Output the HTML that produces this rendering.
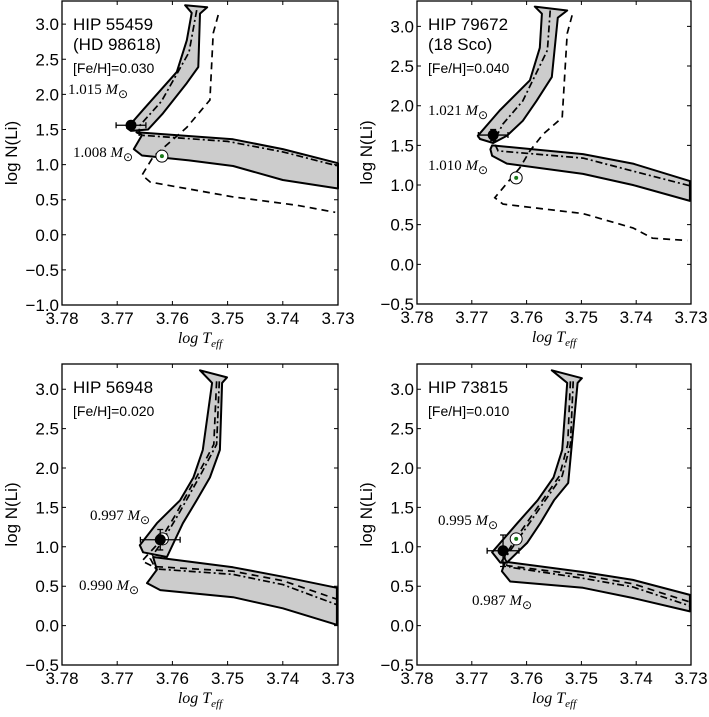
<!DOCTYPE html>
<html><head><meta charset="utf-8"><style>
html,body{margin:0;padding:0;background:#fff;}
svg text{font-family:"Liberation Sans",sans-serif;}
.serif{font-family:"Liberation Serif",serif;}
</style></head><body>
<svg id="fig" width="709" height="712" viewBox="0 0 709 712" xmlns="http://www.w3.org/2000/svg"></svg>
<script>
// ---- Data (log Teff, log N(Li)) ----
const xTicks = [3.78, 3.77, 3.76, 3.75, 3.74, 3.73];
const yTicksA = [-1.0, -0.5, 0.0, 0.5, 1.0, 1.5, 2.0, 2.5, 3.0];
const yTicksB = [-0.5, 0.0, 0.5, 1.0, 1.5, 2.0, 2.5, 3.0];

const p1Upper = [[3.7682,1.52],[3.7653,1.78],[3.7592,2.32],[3.7574,2.77],[3.7565,3.16],[3.7577,3.27],[3.7537,3.24],[3.755,3.15],[3.7553,2.39],[3.7574,2.16],[3.7617,1.73],[3.7644,1.50],[3.7675,1.48]];
const p1Lower = [[3.7665,1.46],[3.749,1.36],[3.740,1.22],[3.730,1.02],[3.730,0.66],[3.740,0.78],[3.749,0.98],[3.757,1.06],[3.7655,1.13],[3.767,1.22],[3.7655,1.42]];
const p1DashDot = [[3.7556,3.2],[3.757,2.6],[3.762,1.9],[3.766,1.55],[3.766,1.42],[3.75,1.33],[3.74,1.18],[3.73,0.98]];
const p1Dashed = [[3.7517,3.13],[3.7526,2.87],[3.7532,1.92],[3.7574,1.53],[3.760,1.35],[3.7635,1.11],[3.7655,0.85],[3.764,0.75],[3.749,0.54],[3.7374,0.42],[3.7305,0.32]];
const p1Star = [3.7675, 1.56, 0.0027, 0.03];
const p1Sun = [3.7619, 1.12];

const p2Upper = [[3.7689,1.62],[3.7649,1.94],[3.7594,2.32],[3.7576,2.73],[3.7572,3.16],[3.7585,3.25],[3.7526,3.20],[3.7543,3.11],[3.7554,2.36],[3.7582,2.06],[3.7607,1.81],[3.7636,1.62],[3.7661,1.53],[3.7685,1.58]];
const p2Lower = [[3.7663,1.50],[3.7497,1.39],[3.7406,1.27],[3.7302,1.05],[3.7302,0.80],[3.7406,1.0],[3.7497,1.14],[3.7636,1.27],[3.7663,1.37],[3.7666,1.45]];
const p2DashDot = [[3.7557,3.2],[3.7562,2.7],[3.7607,2.06],[3.7643,1.77],[3.766,1.55],[3.7652,1.43],[3.7497,1.34],[3.7302,0.99]];
const p2Dashed = [[3.7517,3.14],[3.7526,2.91],[3.7535,1.85],[3.757,1.64],[3.7594,1.43],[3.7612,1.22],[3.7658,0.84],[3.7643,0.76],[3.7497,0.64],[3.7406,0.46],[3.737,0.33],[3.7307,0.30]];
const p2Star = [3.7661, 1.63, 0.0027, 0.07];
const p2Sun = [3.7619, 1.09];

const p3Upper = [[3.7659,1.02],[3.7628,1.30],[3.7586,1.59],[3.7562,1.88],[3.7545,2.23],[3.7528,3.08],[3.755,3.24],[3.7501,3.15],[3.751,3.08],[3.7514,2.23],[3.7532,1.88],[3.7556,1.59],[3.7581,1.30],[3.761,0.87],[3.7653,0.93]];
const p3Lower = [[3.7635,0.87],[3.749,0.74],[3.740,0.62],[3.7302,0.48],[3.7302,0.01],[3.740,0.22],[3.749,0.36],[3.7622,0.45],[3.7646,0.54],[3.7628,0.71]];
const p3DashDot = [[3.7515,3.1],[3.752,2.3],[3.755,1.9],[3.759,1.4],[3.762,1.05],[3.764,0.85],[3.763,0.72],[3.749,0.65],[3.740,0.52],[3.730,0.26]];
const p3Dashed = [[3.752,3.1],[3.7525,2.3],[3.7555,1.9],[3.7595,1.4],[3.7625,1.05],[3.7655,0.82],[3.7635,0.75],[3.749,0.69],[3.740,0.57],[3.730,0.33]];
const p3Star = [3.7622, 1.09, 0.0036, 0.13];
const p3Sun = [3.7618, 1.10];

const p4Upper = [[3.7663,0.93],[3.7617,1.30],[3.7580,1.59],[3.7551,1.88],[3.7535,2.23],[3.7526,3.08],[3.7554,3.24],[3.7499,3.14],[3.7507,3.08],[3.7524,1.81],[3.755,1.59],[3.7575,1.30],[3.7599,1.05],[3.7636,0.80],[3.7648,0.80]];
const p4Lower = [[3.7639,0.81],[3.7497,0.68],[3.7406,0.58],[3.7302,0.39],[3.7302,0.18],[3.7406,0.35],[3.7497,0.48],[3.7630,0.56],[3.7645,0.69]];
const p4DashDot = [[3.7515,3.1],[3.752,2.3],[3.7535,1.9],[3.7575,1.5],[3.7615,1.1],[3.764,0.85],[3.763,0.74],[3.7497,0.60],[3.7406,0.49],[3.7302,0.25]];
const p4Dashed = [[3.752,3.1],[3.7525,2.3],[3.754,1.9],[3.758,1.5],[3.762,1.1],[3.7645,0.82],[3.7635,0.76],[3.7497,0.64],[3.7406,0.53],[3.7302,0.30]];
const p4Star = [3.7643, 0.95, 0.0029, 0.2];
const p4Sun = [3.7619, 1.10];

const NS = "http://www.w3.org/2000/svg";
const fig = document.getElementById('fig');
function mk(tag, attrs, parent){const e=document.createElementNS(NS,tag);for(const k in attrs)e.setAttribute(k,attrs[k]);(parent||fig).appendChild(e);return e;}

function panel(o){
  const g = mk('g',{});
  
  
  const X = t => o.x0 + (3.78 - t) / 0.05 * (o.x1 - o.x0);
  const Y = v => o.y1 - (v - o.ymin) / (o.ymax - o.ymin) * (o.y1 - o.y0);
  const pts = arr => arr.map(p => X(p[0]).toFixed(1)+','+Y(p[1]).toFixed(1)).join(' ');
  let e;
  e = mk('polygon',{points:pts(o.lower),fill:'#cccccc',stroke:'#000','stroke-width':2,'stroke-linejoin':'round'},g);
  
  
  e = mk('polygon',{points:pts(o.upper),fill:'#cccccc',stroke:'#000','stroke-width':2,'stroke-linejoin':'round'},g);
  
  
  e = mk('polyline',{points:pts(o.dashdot),fill:'none',stroke:'#000','stroke-width':1.7,'stroke-dasharray':'7 3 2 3'},g);
  
  
  e = mk('polyline',{points:pts(o.dashed),fill:'none',stroke:'#000','stroke-width':1.7,'stroke-dasharray':'7 5'},g);
  
  
  const sx=X(o.sun[0]), sy=Y(o.sun[1]);
  e = mk('circle',{cx:sx,cy:sy,r:6,fill:'#fff',stroke:'#000','stroke-width':1},g);
  
  
  e = mk('circle',{cx:sx,cy:sy,r:2,fill:'#1a7a1a'},g);
  
  
  const px=X(o.star[0]), py=Y(o.star[1]);
  const ex1=X(o.star[0]+o.star[2]), ex2=X(o.star[0]-o.star[2]);
  const ey1=Y(o.star[1]+o.star[3]), ey2=Y(o.star[1]-o.star[3]);
  e = mk('path',{d:`M${ex1},${py}H${ex2}M${ex1},${py-3}V${py+3}M${ex2},${py-3}V${py+3}M${px},${ey1}V${ey2}M${px-3},${ey1}H${px+3}M${px-3},${ey2}H${px+3}`,stroke:'#000','stroke-width':1.3,fill:'none'},g);
  
  
  e = mk('circle',{cx:px,cy:py,r:5.5,fill:'#000'},g);
  
  
  e = mk('rect',{x:o.x0,y:o.y0,width:o.x1-o.x0,height:o.y1-o.y0,fill:'none',stroke:'#000','stroke-width':1.3},g);
  
  
  xTicks.forEach(t=>{
    const x=X(t);
    e = mk('path',{d:`M${x},${o.y1}v-4M${x},${o.y0}v4`,stroke:'#000','stroke-width':1},g);
    
    
    e = mk('text',{x:x,y:o.y1+19,'font-size':17,'text-anchor':'middle'},g);
    e.textContent=t.toFixed(2);
    
    
  });
  o.yticks.forEach(v=>{
    const y=Y(v);
    e = mk('path',{d:`M${o.x0},${y}h4M${o.x1},${y}h-4`,stroke:'#000','stroke-width':1},g);
    
    
    e = mk('text',{x:o.x0-3,y:y+6,'font-size':17,'text-anchor':'end'},g);
    e.textContent=(v<0?'\u2212':'')+Math.abs(v).toFixed(1);
    
    
  });
  e = mk('text',{x:(o.x0+o.x1)/2,y:o.y1+38,'font-size':16,'text-anchor':'middle','class':'serif','font-style':'italic'},g);
  e.innerHTML='log T<tspan font-size="11" dy="4">eff</tspan>';
  
  
  const cy=(o.y0+o.y1)/2, tx=o.x0-45;
  e = mk('text',{x:tx,y:cy,'font-size':17,'text-anchor':'middle',transform:`rotate(-90 ${tx} ${cy})`},g);
  e.textContent='log N(Li)';
  
  
  o.titles.forEach((t,i)=>{
    e = mk('text',{x:o.x0+11,y:o.y0+29+i*20,'font-size':17},g);
    e.textContent=t;
    
    
  });
  e = mk('text',{x:o.x0+11,y:o.y0+29+o.titles.length*20+3,'font-size':14},g);
  e.textContent=o.feh;
  
  
  o.masses.forEach(m=>{
    e = mk('text',{x:m[0],y:m[1],'font-size':15,'class':'serif'},g);
    e.innerHTML=m[2]+' <tspan font-style="italic">M</tspan><tspan font-size="12" dy="4">\u2299</tspan>';
    
    
  });
}

panel({name:'panel-hip-55459',x0:62,x1:338,y0:1,y1:305,ymin:-1.0,ymax:3.33,yticks:yTicksA,
  upper:p1Upper,lower:p1Lower,dashdot:p1DashDot,dashed:p1Dashed,star:p1Star,sun:p1Sun,
  titles:['HIP 55459','(HD 98618)'],feh:'[Fe/H]=0.030',masses:[[68,94,'1.015'],[73,157,'1.008']]});
panel({name:'panel-hip-79672',x0:417,x1:691,y0:1,y1:304,ymin:-0.5,ymax:3.32,yticks:yTicksB,
  upper:p2Upper,lower:p2Lower,dashdot:p2DashDot,dashed:p2Dashed,star:p2Star,sun:p2Sun,
  titles:['HIP 79672','(18 Sco)'],feh:'[Fe/H]=0.040',masses:[[428,115,'1.021'],[428,170,'1.010']]});
panel({name:'panel-hip-56948',x0:62,x1:338,y0:364,y1:665,ymin:-0.5,ymax:3.32,yticks:yTicksB,
  upper:p3Upper,lower:p3Lower,dashdot:p3DashDot,dashed:p3Dashed,star:p3Star,sun:p3Sun,
  titles:['HIP 56948'],feh:'[Fe/H]=0.020',masses:[[90,520,'0.997'],[79,590,'0.990']]});
panel({name:'panel-hip-73815',x0:417,x1:691,y0:364,y1:665,ymin:-0.5,ymax:3.32,yticks:yTicksB,
  upper:p4Upper,lower:p4Lower,dashdot:p4DashDot,dashed:p4Dashed,star:p4Star,sun:p4Sun,
  titles:['HIP 73815'],feh:'[Fe/H]=0.010',masses:[[438,525,'0.995'],[472,605,'0.987']]});
</script>
</body></html>
